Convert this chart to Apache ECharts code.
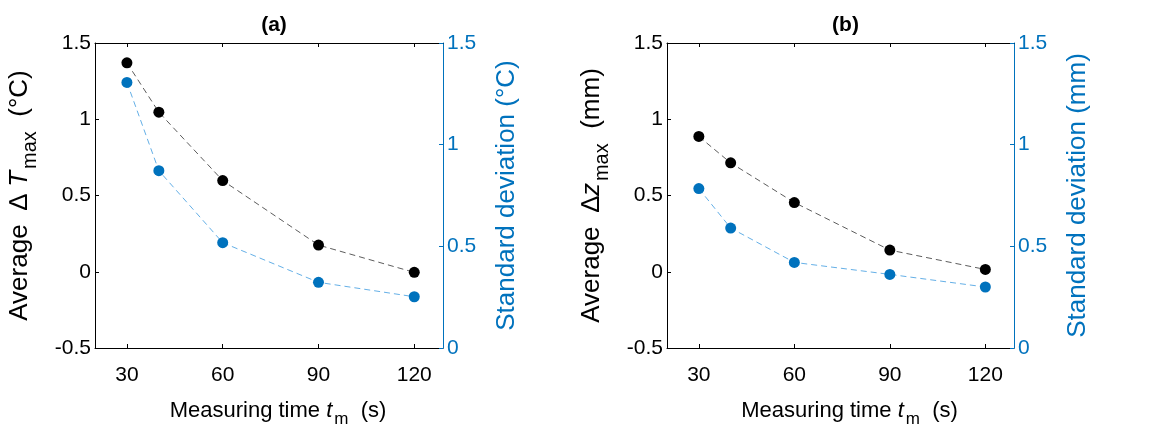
<!DOCTYPE html>
<html><head><meta charset="utf-8">
<script src="https://cdn.jsdelivr.net/npm/echarts@6/dist/echarts.min.js"></script>
<style>html,body{margin:0;padding:0;background:#fff}#c{width:1162px;height:433px}</style>
</head><body><div id="c"></div>
<script>
const times = [30, 40, 60, 90, 120];
const xTicks = [30, 60, 90, 120];
const avgT = [1.37, 1.046, 0.598, 0.175, -0.004];
const stdT = [1.306, 0.872, 0.518, 0.323, 0.252];
const avgZ = [0.887, 0.714, 0.454, 0.142, 0.015];
const stdZ = [0.784, 0.590, 0.421, 0.362, 0.300];
const panelTitles = ['(a)', '(b)'];

const FONT = '"Liberation Sans", Arial, Helvetica, sans-serif';
const BLUE = '#0072BD';
const LBLUE = '#3c9be0';
const X_NAME_FS = 22;
const Y_NAME_FS = 26;
const TICK_FS = 21;
const chart = echarts.init(document.getElementById('c'), null, {renderer: 'canvas'});

const grids = [
  {left: 95, top: 43, width: 348, height: 305, outerBoundsMode: 'none'},
  {left: 667, top: 43, width: 347, height: 305, outerBoundsMode: 'none'}
];
function rich(color, fs, lead) {
  return {
    f: {fontSize: fs, fontFamily: FONT, color: color, padding: [0, 0, 0, lead || 0]},
    n: {fontSize: fs, fontFamily: FONT, color: color},
    i: {fontSize: fs, fontFamily: FONT, color: color, fontStyle: 'italic'},
    s: {fontSize: Math.round(fs * 0.78), fontFamily: FONT, color: color, padding: [Math.round(fs * 0.8), 0, 0, 2]}
  };
}
const xNameStr = '{f|Measuring time }{i|t}{s|m}{n|  (s)}';
const leftNames = [
  '{f|Average  ∆ }{i|T}{s|max}{n|  (°C)}',
  '{f|Average  ∆}{i|z}{s|max}{n|  (mm)}'
];
const rightNames = ['Standard deviation (°C)', 'Standard deviation (mm)'];
const avgs = [avgT, avgZ], stds = [stdT, stdZ];
const xAxes = [], yAxes = [], series = [];
for (let g = 0; g < 2; g++) {
  xAxes.push({
    type: 'value', gridIndex: g, position: 'bottom', min: 20, max: 129,
    name: xNameStr, nameLocation: 'middle', nameGap: 45,
    nameTextStyle: {rich: rich('#000', X_NAME_FS, 18)},
    axisLine: {show: true, onZero: false, lineStyle: {color: '#000', width: 1}},
    axisTick: {show: true, inside: true, length: 4, customValues: xTicks, lineStyle: {color: '#000'}},
    axisLabel: {customValues: xTicks, fontSize: TICK_FS, fontFamily: FONT, color: '#000', margin: 17},
    splitLine: {show: false}
  });
  xAxes.push({
    type: 'value', gridIndex: g, position: 'top', min: 20, max: 129,
    axisLine: {show: true, onZero: false, lineStyle: {color: '#000', width: 1}},
    axisTick: {show: true, inside: true, length: 4, customValues: xTicks, lineStyle: {color: '#000'}},
    axisLabel: {show: false}, splitLine: {show: false}
  });
  yAxes.push({
    type: 'value', gridIndex: g, position: 'left', min: -0.5, max: 1.5, interval: 0.5,
    name: leftNames[g], nameLocation: 'middle', nameRotate: 90, nameGap: 55,
    nameTextStyle: {rich: rich('#000', Y_NAME_FS, 0)},
    axisLine: {show: true, onZero: false, lineStyle: {color: '#000', width: 1}},
    axisTick: {show: true, inside: true, length: 4, lineStyle: {color: '#000'}},
    axisLabel: {fontSize: TICK_FS, fontFamily: FONT, color: '#000', margin: 4},
    splitLine: {show: false}
  });
  yAxes.push({
    type: 'value', gridIndex: g, position: 'right', min: 0, max: 1.5, interval: 0.5,
    name: rightNames[g], nameLocation: 'middle', nameRotate: 90, nameGap: 51,
    nameTextStyle: {fontSize: Y_NAME_FS, fontFamily: FONT, color: BLUE},
    axisLine: {show: true, onZero: false, lineStyle: {color: BLUE, width: 1}},
    axisTick: {show: true, inside: true, length: 4, lineStyle: {color: BLUE}},
    axisLabel: {fontSize: TICK_FS, fontFamily: FONT, color: BLUE, margin: 4},
    splitLine: {show: false}
  });
  series.push({
    type: 'line', xAxisIndex: 2 * g, yAxisIndex: 2 * g,
    data: times.map((t, i) => [t, avgs[g][i]]),
    symbol: 'circle', symbolSize: 11,
    itemStyle: {color: '#000'},
    lineStyle: {color: '#333', width: 0.8, type: [6, 4]},
    z: 3
  });
  series.push({
    type: 'line', xAxisIndex: 2 * g, yAxisIndex: 2 * g + 1,
    data: times.map((t, i) => [t, stds[g][i]]),
    symbol: 'circle', symbolSize: 11,
    itemStyle: {color: BLUE},
    lineStyle: {color: LBLUE, width: 0.8, type: [6, 4]},
    z: 3
  });
}
chart.setOption({
  animation: false,
  title: panelTitles.map((t, g) => ({
    text: t, left: grids[g].left + grids[g].width / 2, top: 10, textAlign: 'center',
    textStyle: {fontSize: 21, fontWeight: 'bold', fontFamily: FONT, color: '#000'}
  })),
  grid: grids,
  xAxis: xAxes,
  yAxis: yAxes,
  series: series
});
</script>
</body></html>
